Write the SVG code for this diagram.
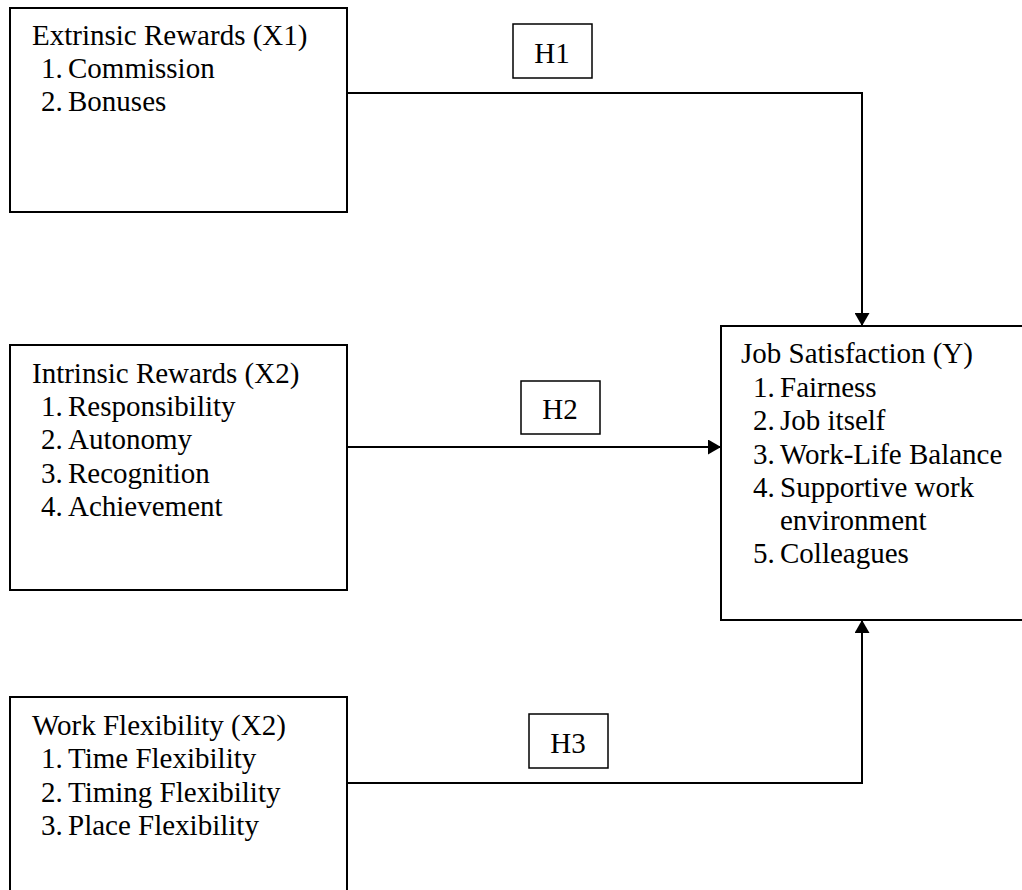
<svg xmlns="http://www.w3.org/2000/svg" width="1022" height="890" viewBox="0 0 1022 890">
<defs>
<style>
.box{fill:#fff;stroke:#000;stroke-width:2}
.hbox{fill:#fff;stroke:#000;stroke-width:1.5}
.t{font-family:"Liberation Serif","Times New Roman",serif;font-size:29px;fill:#000}
.c{text-anchor:middle}
.ln{fill:none;stroke:#000;stroke-width:2}
</style>
<marker id="ah" viewBox="0 0 13 15" refX="13" refY="7.5" markerWidth="13" markerHeight="15" markerUnits="userSpaceOnUse" orient="auto">
<path d="M0,0 L13,7.5 L0,15 Z" fill="#000"/>
</marker>
</defs>
<rect width="1022" height="890" fill="#fff"/>
<g id="connectors">
<polyline class="ln" points="347,93 862,93 862,326" marker-end="url(#ah)"/>
<line class="ln" x1="347" y1="447" x2="721" y2="447" marker-end="url(#ah)"/>
<polyline class="ln" points="347,783 862,783 862,620" marker-end="url(#ah)"/>
</g>
<g id="x1">
<rect class="box" x="10" y="8" width="337" height="204"/>
<text class="t" x="32" y="45">Extrinsic Rewards (X1)</text>
<text class="t" x="41" y="78">1.</text><text class="t" x="68" y="78">Commission</text>
<text class="t" x="41" y="111">2.</text><text class="t" x="68" y="111">Bonuses</text>
</g>
<g id="x2">
<rect class="box" x="10" y="345" width="337" height="245"/>
<text class="t" x="32" y="383">Intrinsic Rewards (X2)</text>
<text class="t" x="41" y="416">1.</text><text class="t" x="68" y="416">Responsibility</text>
<text class="t" x="41" y="449">2.</text><text class="t" x="68" y="449">Autonomy</text>
<text class="t" x="41" y="483">3.</text><text class="t" x="68" y="483">Recognition</text>
<text class="t" x="41" y="516">4.</text><text class="t" x="68" y="516">Achievement</text>
</g>
<g id="x3">
<rect class="box" x="10" y="697" width="337" height="210"/>
<text class="t" x="32" y="735">Work Flexibility (X2)</text>
<text class="t" x="41" y="768">1.</text><text class="t" x="68" y="768">Time Flexibility</text>
<text class="t" x="41" y="802">2.</text><text class="t" x="68" y="802">Timing Flexibility</text>
<text class="t" x="41" y="835">3.</text><text class="t" x="68" y="835">Place Flexibility</text>
</g>
<g id="y">
<rect class="box" x="721" y="326" width="320" height="294"/>
<text class="t" x="741" y="363">Job Satisfaction (Y)</text>
<text class="t" x="753" y="397">1.</text><text class="t" x="780" y="397">Fairness</text>
<text class="t" x="753" y="430">2.</text><text class="t" x="780" y="430">Job itself</text>
<text class="t" x="753" y="464">3.</text><text class="t" x="780" y="464">Work-Life Balance</text>
<text class="t" x="753" y="497">4.</text><text class="t" x="780" y="497">Supportive work</text>
<text class="t" x="780" y="530">environment</text>
<text class="t" x="753" y="563">5.</text><text class="t" x="780" y="563">Colleagues</text>
</g>
<g id="h1">
<rect class="hbox" x="513" y="24" width="79" height="54"/>
<text class="t c" x="552" y="63">H1</text>
</g>
<g id="h2">
<rect class="hbox" x="521" y="381" width="79" height="53"/>
<text class="t c" x="560" y="419">H2</text>
</g>
<g id="h3">
<rect class="hbox" x="529" y="714" width="79" height="54"/>
<text class="t c" x="568" y="753">H3</text>
</g>
</svg>
